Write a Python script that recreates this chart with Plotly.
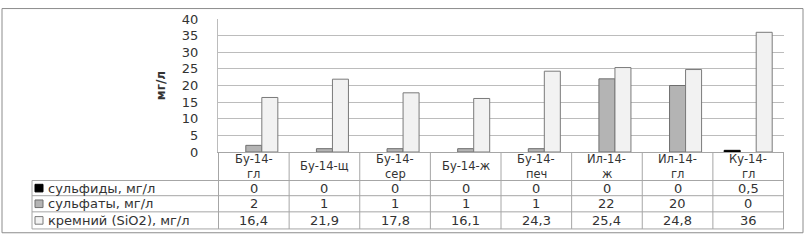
import plotly.graph_objects as go

# ---- data ----
categories = ["Бу-14-гл", "Бу-14-щ", "Бу-14-сер", "Бу-14-ж", "Бу-14-печ", "Ил-14-ж", "Ил-14-гл", "Ку-14-гл"]
header_labels = ["Бу-14-<br>гл", "Бу-14-щ", "Бу-14-<br>сер", "Бу-14-ж", "Бу-14-<br>печ", "Ил-14-<br>ж", "Ил-14-<br>гл", "Ку-14-<br>гл"]
series_names = ["сульфиды, мг/л", "сульфаты, мг/л", "кремний (SiO2), мг/л"]
sulfides = [0, 0, 0, 0, 0, 0, 0, 0.5]
sulfates = [2, 1, 1, 1, 1, 22, 20, 0]
silica = [16.4, 21.9, 17.8, 16.1, 24.3, 25.4, 24.8, 36]
y_ticks = [0, 5, 10, 15, 20, 25, 30, 35, 40]

# ---- layout geometry (pixels) ----
W, H = 805, 240
L, R, T, B = 218, 21, 12, 88
pw, ph = W - L - R, H - T - B

def px(x):
    return (x - L) / pw

def py(y):
    return (H - B - y) / ph

FONT = "DejaVu Sans"
TXT = "#333333"
GRID = "#bcbcbc"
BORDER = "#a6a6a6"

fills = ["#000000", "#b4b4b4", "#f2f2f2"]
edges = ["#000000", "#6e6e6e", "#7a7a7a"]
values = [sulfides, sulfates, silica]

fig = go.Figure()
for name, vals, fc, ec in zip(series_names, values, fills, edges):
    fig.add_trace(go.Bar(
        x=categories, y=vals, name=name,
        marker=dict(color=fc, line=dict(color=ec, width=[1 if v else 0 for v in vals])),
        showlegend=False, hoverinfo="skip",
    ))

shapes = []
annotations = []

row_lines = [182, 198, 215, 233]
row_centers = [190, 206.5, 224]

for yl in row_lines:
    shapes.append(dict(type="line", xref="paper", yref="paper",
                       x0=px(32), x1=1, y0=py(yl), y1=py(yl),
                       line=dict(color=BORDER, width=1)))
n = len(categories)
for i in range(n + 1):
    shapes.append(dict(type="line", xref="x", yref="paper",
                       x0=i - 0.5, x1=i - 0.5, y0=0, y1=py(233),
                       line=dict(color=BORDER, width=1)))
shapes.append(dict(type="line", xref="paper", yref="paper",
                   x0=px(32), x1=px(32), y0=py(182), y1=py(233),
                   line=dict(color=BORDER, width=1)))

# header cells: one annotation per text line for tight line spacing
for i, lab in enumerate(header_labels):
    parts = lab.split("<br>")
    ys = [167] if len(parts) == 1 else [159.5, 175]
    for part, yy in zip(parts, ys):
        annotations.append(dict(x=categories[i], y=py(yy), xref="x", yref="paper",
                                text=part, showarrow=False, xanchor="center", yanchor="middle",
                                borderpad=0,
                                font=dict(family=FONT, size=11.5, color=TXT)))

for r, (name, vals, fc, ec) in enumerate(zip(series_names, values, fills, edges)):
    yc = row_centers[r]
    for i, v in enumerate(vals):
        s = ("%g" % v).replace(".", ",")
        annotations.append(dict(x=categories[i], y=py(yc), xref="x", yref="paper",
                                text=s, showarrow=False, xanchor="center", yanchor="middle",
                                font=dict(family=FONT, size=13, color=TXT)))
    annotations.append(dict(x=px(46), y=py(yc), xref="paper", yref="paper",
                            text=name, showarrow=False, xanchor="left", yanchor="middle",
                            font=dict(family=FONT, size=13, color=TXT)))
    shapes.append(dict(type="rect", xref="paper", yref="paper",
                       x0=px(35), x1=px(43), y0=py(yc - 4), y1=py(yc + 4),
                       fillcolor=fc, line=dict(color=ec, width=1)))

shapes.append(dict(type="rect", xref="paper", yref="paper",
                   x0=px(2), x1=px(803), y0=py(237), y1=py(1),
                   line=dict(color="#8c8c8c", width=1), fillcolor="rgba(0,0,0,0)", layer="below"))

fig.update_layout(
    width=W, height=H,
    margin=dict(l=L, r=R, t=T, b=B, pad=0),
    paper_bgcolor="white", plot_bgcolor="white",
    barmode="group", bargap=0.32, bargroupgap=0,
    font=dict(family=FONT, size=12, color=TXT),
    shapes=shapes, annotations=annotations,
    xaxis=dict(showticklabels=False, ticks="", showgrid=False,
               showline=True, linecolor=BORDER, linewidth=1, fixedrange=True),
    yaxis=dict(range=[0, 40], tickvals=y_ticks, ticks="", showgrid=True,
               gridcolor=GRID, gridwidth=1, zeroline=False,
               showline=True, linecolor=GRID, linewidth=1,
               tickfont=dict(family=FONT, size=13, color=TXT),
               ticklabelstandoff=16,
               title=dict(text="<b>мг/л</b>", standoff=13,
                          font=dict(family=FONT, size=12, color=TXT))),
)

fig.write_html("out.html", config={"displayModeBar": False},
               post_script="document.body.style.margin='0';document.body.style.overflow='hidden';")
